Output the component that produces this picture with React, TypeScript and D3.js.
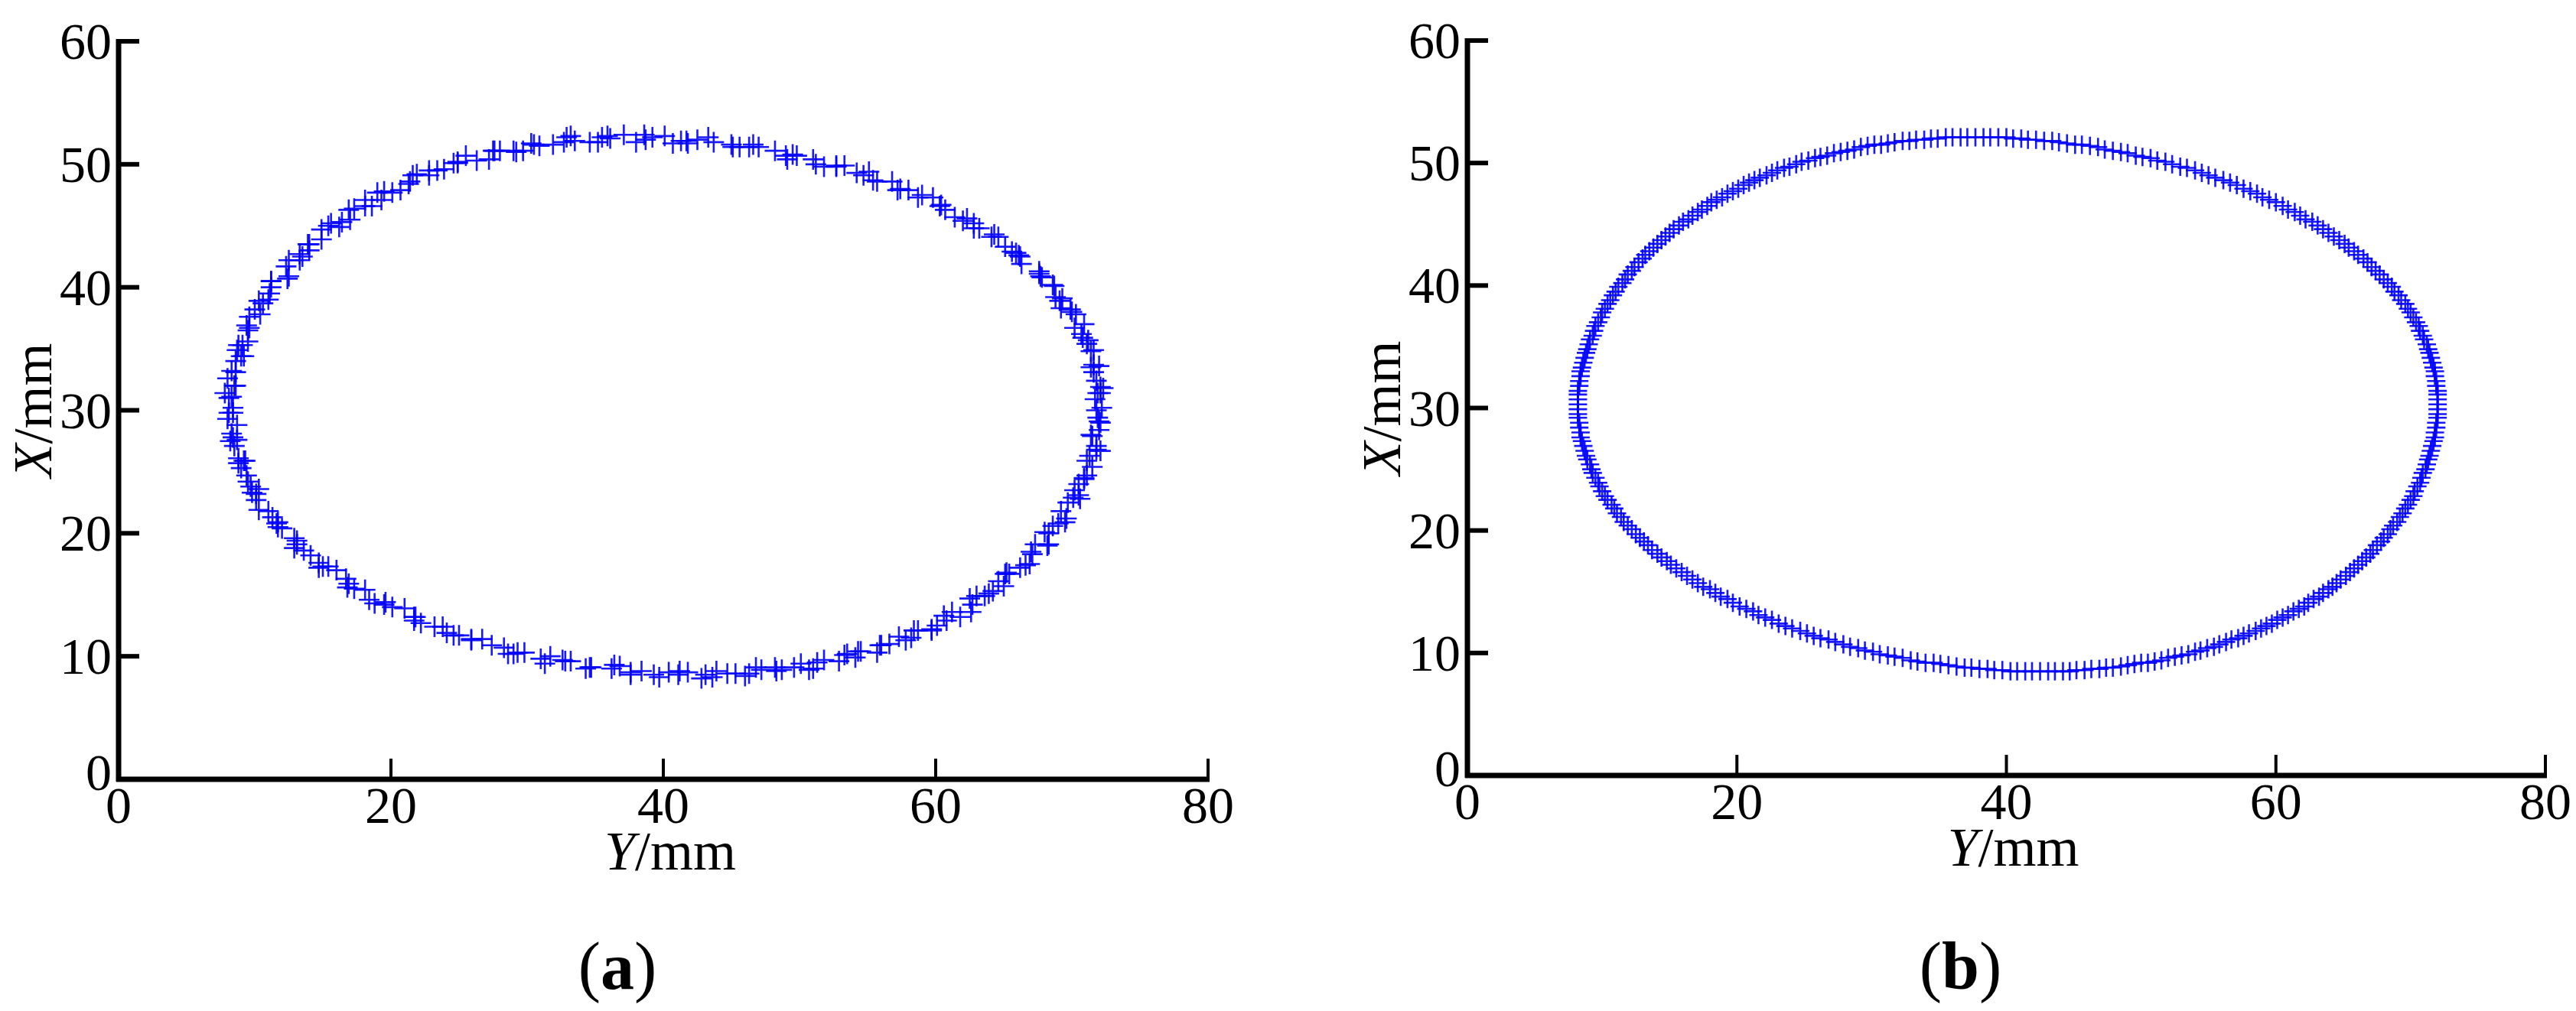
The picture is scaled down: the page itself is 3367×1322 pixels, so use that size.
import React from "react";
import * as d3 from "d3";

// ---- Data (Y = horizontal, X = vertical, mm) ----
const xTicks = [0, 20, 40, 60, 80];
const yTicks = [0, 10, 20, 30, 40, 50, 60];
const xTitle = "Y";
const yTitle = "X";
const unit = "/mm";
const panelLabels = ["a", "b"];

// Panel (a): measured trajectory (noisy samples)
const panelA_Y = [
  72.2, 71.9, 72.3, 71.8, 71.4, 71.6, 71.6, 70.8, 70.7, 70.9, 69.9, 69.2, 69.3, 68.7, 67.8, 67.7, 66.3, 66.1, 65.6, 64.6,
  64.3, 62.8, 62.3, 61.4, 60.3, 59.8, 58.7, 57.2, 56.8, 55.4, 54.7, 53.3, 52.7, 51.2, 49.8, 49.1, 48.2, 46.6, 45.6, 45.0,
  43.3, 41.8, 41.3, 40.1, 38.6, 38.0, 36.1, 35.5, 34.6, 33.2, 32.7, 30.9, 30.3, 29.2, 28.0, 27.5, 26.3, 24.9, 24.6, 23.4,
  22.8, 21.6, 21.3, 20.1, 19.0, 18.6, 18.1, 16.9, 16.4, 16.2, 14.9, 14.0, 14.0, 13.3, 12.5, 12.5, 11.2, 11.2, 11.0, 10.3,
  10.4, 9.4, 9.5, 9.1, 8.7, 9.0, 8.6, 8.0, 8.5, 8.1, 8.4, 8.1, 8.7, 8.4, 8.2, 8.8, 9.2, 9.0, 9.5, 10.3,
  10.1, 10.3, 11.3, 11.7, 12.0, 13.1, 12.9, 14.1, 15.0, 15.4, 16.7, 16.8, 18.1, 18.8, 19.5, 21.0, 21.7, 22.2, 23.8, 24.6,
  25.9, 26.7, 28.3, 29.0, 29.8, 31.3, 32.6, 33.2, 34.6, 36.2, 36.8, 37.6, 39.3, 40.4, 41.2, 42.8, 43.1, 44.7, 46.0, 46.8,
  48.3, 48.7, 50.1, 51.0, 51.8, 53.3, 54.1, 54.5, 56.0, 56.6, 57.8, 58.4, 59.7, 60.1, 60.6, 61.8, 62.7, 63.0, 63.9, 65.0,
  65.1, 65.4, 66.6, 67.1, 67.3, 68.3, 68.0, 69.0, 69.6, 69.7, 70.6, 70.2, 70.9, 71.1, 71.1, 71.8, 71.8, 71.4, 72.1, 71.9,
  71.7, 72.1, 72.1, 71.6, 72.0, 71.4, 71.1, 71.2, 70.2, 70.3, 70.0, 69.1, 68.8, 68.6, 67.6, 67.6, 66.2, 65.9, 65.1, 64.1,
  63.2, 62.8, 62.0, 60.7, 60.4, 59.0, 58.0, 57.4, 55.7, 55.1, 54.2, 52.7, 51.8, 51.0, 49.5, 49.0, 47.0, 46.3, 45.1, 43.7,
  42.5, 41.7, 40.7, 39.2, 38.7, 37.1, 35.9, 35.2, 33.5, 32.9, 31.9, 30.5, 29.7, 29.0, 27.6, 27.2, 25.5, 24.9, 23.9, 22.8,
  21.9, 21.4, 20.7, 19.5, 19.3, 18.1, 17.3, 17.0, 15.6, 15.4, 14.9, 13.9, 13.5, 13.3, 12.3, 12.4, 11.2, 11.1, 10.6, 10.0,
  9.6, 9.6, 9.5, 8.8, 9.2, 8.6, 8.3, 8.6, 7.8, 8.3, 8.4, 8.0, 8.3, 8.7, 8.5, 9.3, 8.8, 9.4, 9.7, 9.8,
  10.1, 11.0, 11.6, 11.7, 12.9, 13.1, 13.6, 14.7, 14.7, 16.0, 16.9, 17.3, 18.4, 19.6, 20.1, 21.7, 21.8, 23.2, 24.1, 25.0,
  25.9, 27.4, 28.6, 29.3, 31.0, 31.7, 32.8, 34.3, 34.7, 36.4, 37.6, 38.4, 39.7, 41.1, 41.8, 43.6, 43.9, 45.3, 46.3, 47.2,
  48.2, 49.6, 50.7, 51.3, 52.9, 53.5, 54.3, 55.7, 55.9, 57.3, 58.2, 58.7, 59.7, 60.8, 61.2, 62.6, 62.5, 63.6, 64.2, 64.6,
  65.2, 66.2, 66.9, 67.0, 68.2, 68.3, 68.6, 69.5, 69.2, 70.1, 70.5, 70.5, 70.9, 71.5, 71.3, 72.1, 71.5, 72.0, 72.0, 71.8,
];
const panelA_X = [
  30.2, 31.4, 31.8, 32.4, 33.5, 33.7, 34.9, 35.9, 36.2, 37.0, 38.2, 38.3, 39.1, 40.1, 40.8, 40.9, 41.9, 42.6, 42.9, 44.1,
  44.3, 44.8, 45.6, 45.7, 46.6, 47.3, 47.3, 47.9, 48.6, 48.7, 49.1, 49.9, 49.9, 50.0, 50.7, 50.4, 51.1, 51.6, 51.4, 51.6,
  52.2, 51.7, 51.9, 52.3, 52.4, 51.8, 52.1, 52.2, 51.8, 52.3, 51.8, 51.5, 51.7, 51.0, 51.1, 51.1, 50.3, 50.2, 50.1, 49.5,
  49.1, 49.1, 48.4, 47.7, 47.7, 46.6, 46.6, 46.3, 45.3, 44.9, 44.7, 43.5, 43.0, 42.7, 42.2, 40.9, 40.5, 40.0, 39.0, 38.9,
  37.8, 36.9, 36.5, 35.3, 34.9, 34.4, 33.1, 32.6, 32.0, 31.0, 30.2, 29.8, 28.8, 27.8, 27.5, 26.1, 25.9, 25.3, 24.2, 23.6,
  23.2, 21.9, 21.3, 20.9, 20.4, 19.1, 18.8, 18.2, 17.3, 17.3, 16.3, 15.6, 15.4, 14.3, 14.2, 13.9, 12.9, 12.7, 12.4, 11.7,
  11.3, 11.4, 10.7, 10.2, 10.3, 9.4, 9.7, 9.6, 9.1, 9.0, 9.2, 8.5, 8.5, 8.7, 8.8, 8.2, 8.5, 8.6, 8.4, 9.1,
  8.8, 8.9, 9.4, 9.0, 9.7, 10.1, 9.9, 10.4, 10.9, 11.0, 11.3, 12.1, 12.2, 12.5, 13.3, 13.2, 14.2, 14.9, 15.1, 15.7,
  16.7, 16.7, 17.4, 18.3, 19.1, 19.1, 20.1, 20.8, 21.2, 22.5, 22.8, 23.5, 24.5, 24.7, 25.9, 26.8, 27.1, 28.0, 29.0, 29.4,
  30.9, 31.4, 31.9, 33.1, 33.6, 34.8, 35.4, 35.7, 36.7, 37.8, 38.0, 38.9, 39.2, 40.2, 41.1, 41.3, 42.5, 42.8, 43.3, 44.1,
  44.8, 45.2, 45.4, 46.3, 46.7, 47.5, 47.9, 48.0, 48.6, 49.4, 49.3, 49.8, 49.8, 50.4, 50.8, 50.7, 51.4, 51.4, 51.4, 51.8,
  52.0, 51.9, 51.7, 52.2, 52.0, 52.4, 52.3, 51.8, 51.9, 52.2, 51.6, 51.6, 51.1, 51.1, 51.1, 50.4, 50.7, 50.1, 49.6, 49.5,
  49.2, 48.6, 47.9, 47.8, 47.1, 47.1, 46.4, 45.5, 45.2, 45.0, 43.9, 43.5, 42.5, 42.2, 41.7, 40.7, 40.5, 39.5, 38.7, 38.2,
  37.6, 36.7, 35.6, 35.3, 34.4, 34.0, 33.2, 32.0, 31.4, 31.1, 29.8, 29.3, 28.1, 27.6, 27.1, 25.9, 25.7, 24.7, 23.8, 23.3,
  22.7, 21.8, 20.8, 20.5, 19.6, 19.4, 18.6, 17.6, 17.2, 17.0, 15.9, 15.5, 14.6, 14.4, 14.0, 13.2, 13.2, 12.4, 11.9, 11.7,
  11.4, 10.9, 10.2, 10.3, 9.8, 10.0, 9.6, 9.0, 9.1, 9.3, 8.7, 8.8, 8.3, 8.5, 8.7, 8.3, 8.8, 8.6, 8.6, 8.9,
  9.1, 9.1, 8.9, 9.5, 9.6, 10.2, 10.4, 10.3, 10.9, 11.6, 11.5, 12.1, 12.1, 12.9, 13.6, 13.6, 14.7, 14.9, 15.3, 16.1,
  16.8, 17.2, 17.5, 18.5, 19.0, 20.0, 20.6, 20.9, 21.8, 22.9, 23.1, 24.0, 24.4, 25.4, 26.3, 26.7, 27.9, 28.4, 29.1, 30.0,
];

// Panel (b): smooth trajectory
const panelB_Y = [
  72.0, 72.0, 72.0, 72.0, 71.9, 71.9, 71.8, 71.8, 71.7, 71.6,
  71.5, 71.4, 71.3, 71.2, 71.0, 70.9, 70.7, 70.6, 70.4, 70.2,
  70.0, 69.8, 69.6, 69.3, 69.1, 68.8, 68.6, 68.3, 68.0, 67.7,
  67.4, 67.1, 66.8, 66.5, 66.1, 65.8, 65.4, 65.1, 64.7, 64.3,
  63.9, 63.5, 63.1, 62.7, 62.2, 61.8, 61.4, 60.9, 60.5, 60.0,
  59.5, 59.0, 58.6, 58.1, 57.6, 57.1, 56.6, 56.1, 55.5, 55.0,
  54.5, 54.0, 53.4, 52.9, 52.3, 51.8, 51.2, 50.7, 50.1, 49.6,
  49.0, 48.5, 47.9, 47.3, 46.8, 46.2, 45.6, 45.1, 44.5, 43.9,
  43.4, 42.8, 42.2, 41.6, 41.1, 40.5, 40.0, 39.4, 38.8, 38.3,
  37.7, 37.1, 36.6, 36.0, 35.5, 34.9, 34.4, 33.9, 33.3, 32.8,
  32.3, 31.7, 31.2, 30.7, 30.2, 29.7, 29.2, 28.7, 28.2, 27.7,
  27.2, 26.7, 26.2, 25.8, 25.3, 24.8, 24.4, 23.9, 23.5, 23.0,
  22.6, 22.2, 21.7, 21.3, 20.9, 20.5, 20.1, 19.7, 19.3, 18.9,
  18.5, 18.1, 17.8, 17.4, 17.1, 16.7, 16.4, 16.0, 15.7, 15.3,
  15.0, 14.7, 14.4, 14.1, 13.8, 13.5, 13.2, 13.0, 12.7, 12.4,
  12.2, 11.9, 11.7, 11.5, 11.2, 11.0, 10.8, 10.6, 10.4, 10.2,
  10.0, 9.9, 9.7, 9.5, 9.4, 9.3, 9.1, 9.0, 8.9, 8.8,
  8.7, 8.6, 8.5, 8.4, 8.4, 8.3, 8.3, 8.2, 8.2, 8.2,
  8.2, 8.2, 8.2, 8.2, 8.3, 8.3, 8.4, 8.4, 8.5, 8.6,
  8.7, 8.8, 8.9, 9.1, 9.2, 9.3, 9.5, 9.7, 9.8, 10.0,
  10.2, 10.4, 10.7, 10.9, 11.1, 11.4, 11.6, 11.9, 12.2, 12.5,
  12.8, 13.1, 13.4, 13.7, 14.1, 14.4, 14.8, 15.1, 15.5, 15.9,
  16.3, 16.7, 17.1, 17.5, 18.0, 18.4, 18.8, 19.3, 19.7, 20.2,
  20.7, 21.2, 21.6, 22.1, 22.6, 23.1, 23.6, 24.1, 24.7, 25.2,
  25.7, 26.2, 26.8, 27.3, 27.9, 28.4, 29.0, 29.5, 30.1, 30.6,
  31.2, 31.7, 32.3, 32.9, 33.4, 34.0, 34.6, 35.1, 35.7, 36.3,
  36.9, 37.4, 38.0, 38.6, 39.1, 39.7, 40.3, 40.8, 41.4, 41.9,
  42.5, 43.1, 43.6, 44.2, 44.7, 45.2, 45.8, 46.3, 46.9, 47.4,
  47.9, 48.5, 49.0, 49.5, 50.0, 50.5, 51.0, 51.5, 52.0, 52.5,
  53.0, 53.5, 54.0, 54.4, 54.9, 55.4, 55.8, 56.3, 56.7, 57.2,
  57.6, 58.0, 58.5, 58.9, 59.3, 59.7, 60.1, 60.5, 60.9, 61.3,
  61.7, 62.1, 62.4, 62.8, 63.2, 63.5, 63.9, 64.2, 64.5, 64.8,
  65.2, 65.5, 65.8, 66.1, 66.4, 66.7, 67.0, 67.2, 67.5, 67.8,
  68.0, 68.3, 68.5, 68.7, 69.0, 69.2, 69.4, 69.6, 69.8, 70.0,
  70.2, 70.3, 70.5, 70.7, 70.8, 70.9, 71.1, 71.2, 71.3, 71.4,
  71.5, 71.6, 71.7, 71.8, 71.8, 71.9, 71.9, 72.0, 72.0, 72.0,
];
const panelB_X = [
  30.3, 30.7, 31.1, 31.4, 31.8, 32.2, 32.6, 33.0, 33.3, 33.7,
  34.1, 34.5, 34.8, 35.2, 35.6, 35.9, 36.3, 36.7, 37.0, 37.4,
  37.8, 38.1, 38.5, 38.8, 39.2, 39.5, 39.9, 40.2, 40.5, 40.9,
  41.2, 41.5, 41.9, 42.2, 42.5, 42.8, 43.1, 43.4, 43.7, 44.0,
  44.3, 44.6, 44.9, 45.2, 45.4, 45.7, 46.0, 46.2, 46.5, 46.8,
  47.0, 47.2, 47.5, 47.7, 47.9, 48.2, 48.4, 48.6, 48.8, 49.0,
  49.2, 49.4, 49.6, 49.7, 49.9, 50.1, 50.2, 50.4, 50.5, 50.6,
  50.8, 50.9, 51.0, 51.1, 51.3, 51.4, 51.5, 51.5, 51.6, 51.7,
  51.8, 51.8, 51.9, 51.9, 52.0, 52.0, 52.1, 52.1, 52.1, 52.1,
  52.1, 52.1, 52.1, 52.1, 52.1, 52.0, 52.0, 51.9, 51.9, 51.8,
  51.8, 51.7, 51.6, 51.5, 51.5, 51.4, 51.3, 51.1, 51.0, 50.9,
  50.8, 50.6, 50.5, 50.4, 50.2, 50.1, 49.9, 49.7, 49.6, 49.4,
  49.2, 49.0, 48.8, 48.6, 48.4, 48.2, 47.9, 47.7, 47.5, 47.2,
  47.0, 46.8, 46.5, 46.2, 46.0, 45.7, 45.4, 45.2, 44.9, 44.6,
  44.3, 44.0, 43.7, 43.4, 43.1, 42.8, 42.5, 42.2, 41.9, 41.5,
  41.2, 40.9, 40.5, 40.2, 39.9, 39.5, 39.2, 38.8, 38.5, 38.1,
  37.8, 37.4, 37.0, 36.7, 36.3, 35.9, 35.6, 35.2, 34.8, 34.5,
  34.1, 33.7, 33.3, 33.0, 32.6, 32.2, 31.8, 31.4, 31.1, 30.7,
  30.3, 29.9, 29.5, 29.2, 28.8, 28.4, 28.0, 27.6, 27.3, 26.9,
  26.5, 26.1, 25.8, 25.4, 25.0, 24.7, 24.3, 23.9, 23.6, 23.2,
  22.8, 22.5, 22.1, 21.8, 21.4, 21.1, 20.7, 20.4, 20.1, 19.7,
  19.4, 19.1, 18.8, 18.4, 18.1, 17.8, 17.5, 17.2, 16.9, 16.6,
  16.3, 16.0, 15.7, 15.4, 15.2, 14.9, 14.6, 14.4, 14.1, 13.8,
  13.6, 13.4, 13.1, 12.9, 12.7, 12.4, 12.2, 12.0, 11.8, 11.6,
  11.4, 11.2, 11.1, 10.9, 10.7, 10.5, 10.4, 10.2, 10.1, 9.9,
  9.8, 9.7, 9.6, 9.4, 9.3, 9.2, 9.2, 9.1, 9.0, 8.9,
  8.8, 8.8, 8.7, 8.7, 8.6, 8.6, 8.5, 8.5, 8.5, 8.5,
  8.5, 8.5, 8.5, 8.5, 8.5, 8.6, 8.6, 8.7, 8.7, 8.8,
  8.8, 8.9, 9.0, 9.1, 9.2, 9.2, 9.3, 9.4, 9.6, 9.7,
  9.8, 9.9, 10.1, 10.2, 10.4, 10.5, 10.7, 10.9, 11.1, 11.2,
  11.4, 11.6, 11.8, 12.0, 12.2, 12.4, 12.7, 12.9, 13.1, 13.4,
  13.6, 13.8, 14.1, 14.4, 14.6, 14.9, 15.2, 15.4, 15.7, 16.0,
  16.3, 16.6, 16.9, 17.2, 17.5, 17.8, 18.1, 18.4, 18.8, 19.1,
  19.4, 19.7, 20.1, 20.4, 20.7, 21.1, 21.4, 21.8, 22.1, 22.5,
  22.8, 23.2, 23.6, 23.9, 24.3, 24.7, 25.0, 25.4, 25.8, 26.1,
  26.5, 26.9, 27.3, 27.6, 28.0, 28.4, 28.8, 29.2, 29.5, 29.9,
];

const FONT = "'Liberation Serif', 'Times New Roman', serif";
const BLUE = "#0000ff";

type PanelProps = {
  ys: number[];
  xs: number[];
  label: string;
  left: number;
  right: number;
  bottom: number;
  top: number;
  marker: number;
};

function Panel({ ys, xs, label, left, right, bottom, top, marker }: PanelProps) {
  const sx = d3.scaleLinear().domain([0, 80]).range([left, right]);
  const sy = d3.scaleLinear().domain([0, 60]).range([bottom, top]);
  const h = marker / 2;
  const cross = `M${-h},0H${h}M0,${-h}V${h}`;
  const y0 = sy(0);
  const xMid = (sx(0) + sx(80)) / 2;
  return (
    <g>
      {/* markers */}
      <g stroke={BLUE} strokeWidth={2.6} strokeOpacity={0.9} fill="none">
        {ys.map((v, i) => (
          <path key={i} d={cross} transform={`translate(${sx(v)},${sy(xs[i])})`} />
        ))}
      </g>
      {/* axes */}
      <line x1={sx(0)} x2={sx(0)} y1={sy(60) - 3} y2={y0 + 3} stroke="#000" strokeWidth={7} />
      <line x1={sx(0) - 3} x2={sx(80) + 2} y1={y0} y2={y0} stroke="#000" strokeWidth={7} />
      {yTicks.filter((t) => t > 0).map((t) => (
        <line key={"yt" + t} x1={sx(0)} x2={sx(0) + 27} y1={sy(t)} y2={sy(t)} stroke="#000" strokeWidth={6} />
      ))}
      {xTicks.filter((t) => t > 0).map((t) => (
        <line key={"xt" + t} x1={sx(t)} x2={sx(t)} y1={y0} y2={y0 - 27} stroke="#000" strokeWidth={4} />
      ))}
      {/* tick labels */}
      {yTicks.map((t) => (
        <text
          key={"yl" + t}
          x={sx(0) - 9}
          y={sy(t) - (t === 0 ? 9 : 0)}
          dy="0.34em"
          textAnchor="end"
          fontSize={68}
          fontFamily={FONT}
        >
          {t}
        </text>
      ))}
      {xTicks.map((t) => (
        <text key={"xl" + t} x={sx(t)} y={y0 + 57} textAnchor="middle" fontSize={68} fontFamily={FONT}>
          {t}
        </text>
      ))}
      {/* axis titles */}
      <text x={xMid + 9} y={y0 + 118} textAnchor="middle" fontSize={72} fontFamily={FONT}>
        <tspan fontStyle="italic">{xTitle}</tspan>
        {unit}
      </text>
      <text
        transform={`translate(${sx(0) - 88},${sy(30)}) rotate(-90)`}
        textAnchor="middle"
        fontSize={72}
        fontFamily={FONT}
      >
        <tspan fontStyle="italic">{yTitle}</tspan>
        {unit}
      </text>
      {/* panel label */}
      <text x={xMid - 60} y={1293} textAnchor="middle" fontSize={88} fontFamily={FONT}>
        (<tspan fontWeight="bold">{label}</tspan>)
      </text>
    </g>
  );
}

export default function App() {
  return (
    <svg
      width={3367}
      height={1322}
      viewBox="0 0 3367 1322"
      style={{ position: "absolute", left: 0, top: 0, background: "#fff" }}
    >
      <rect x={0} y={0} width={3367} height={1322} fill="#fff" />
      <Panel ys={panelA_Y} xs={panelA_X} label={panelLabels[0]} left={155} right={1579} bottom={1019} top={54} marker={27} />
      <Panel ys={panelB_Y} xs={panelB_X} label={panelLabels[1]} left={1918} right={3327} bottom={1014} top={53} marker={24} />
    </svg>
  );
}
